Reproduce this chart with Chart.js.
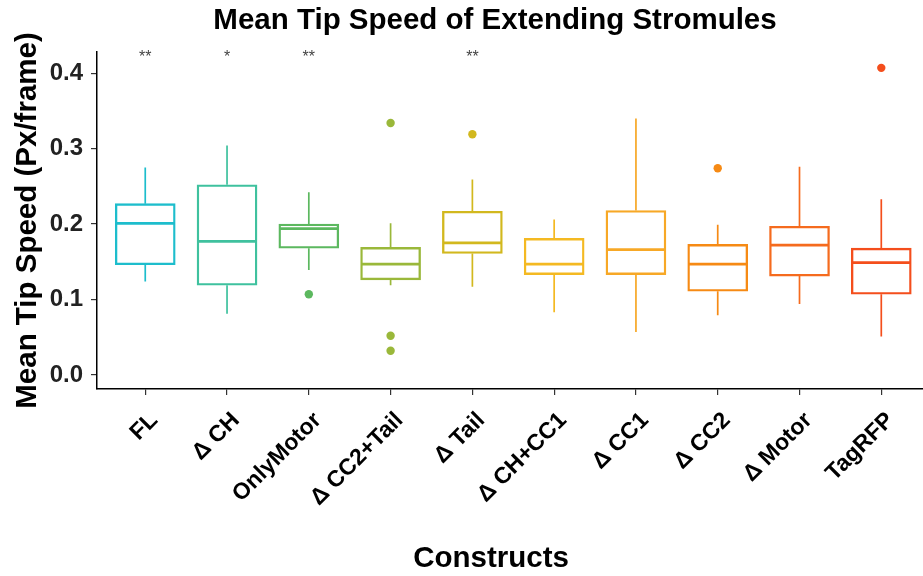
<!DOCTYPE html>
<html>
<head>
<meta charset="utf-8">
<script src="https://cdn.jsdelivr.net/npm/chart.js@4.4.1/dist/chart.umd.min.js"></script>
<style>
  html, body { margin: 0; padding: 0; background: #ffffff; }
  #wrap { width: 923px; height: 576px; position: relative; }
</style>
</head>
<body>
<div id="wrap"><canvas id="chart"></canvas></div>
<script>
// Constructs on the x axis
const constructs = ['FL', 'Δ CH', 'OnlyMotor', 'Δ CC2+Tail', 'Δ Tail', 'Δ CH+CC1', 'Δ CC1', 'Δ CC2', 'Δ Motor', 'TagRFP'];

// Box-plot summaries (Px/frame)
const whiskerLow  = [0.124, 0.081, 0.139, 0.119, 0.117, 0.083, 0.057, 0.079, 0.094, 0.051];
const lowerQuart  = [0.146, 0.119, 0.168, 0.126, 0.161, 0.133, 0.133, 0.111, 0.131, 0.107];
const medians     = [0.201, 0.177, 0.194, 0.147, 0.175, 0.147, 0.166, 0.147, 0.172, 0.149];
const upperQuart  = [0.227, 0.252, 0.200, 0.169, 0.217, 0.181, 0.218, 0.173, 0.197, 0.168];
const whiskerHigh = [0.275, 0.304, 0.242, 0.201, 0.259, 0.206, 0.340, 0.199, 0.276, 0.233];
const outliers    = [[], [], [0.107], [0.334, 0.052, 0.032], [0.319], [], [], [0.274], [], [0.407]];

// Significance marks shown above each construct
const significance = ['**', '*', '**', '', '**', '', '', '', '', ''];
const markLevel = 0.42;

// Y axis tick values
const yTicks = [0.0, 0.1, 0.2, 0.3, 0.4];

const colours = ['#1dbdcc', '#3fc19e', '#5cb85f', '#9ab83a', '#d2b81e',
                 '#f4b922', '#f7a826', '#f68a14', '#f56b1e', '#f44e1c'];

const FONT = '"Liberation Sans", Arial, Helvetica, sans-serif';

const boxData = constructs.map((_, i) => ({ x: i + 1, y: [lowerQuart[i], upperQuart[i]] }));
const medianData = constructs.map((_, i) => ({ x: i + 1, y: medians[i] }));
const whiskerSets = constructs.map((_, i) => ({
  type: 'line',
  data: [
    { x: i + 1, y: whiskerLow[i] }, { x: i + 1, y: lowerQuart[i] },
    { x: i + 1, y: null },
    { x: i + 1, y: upperQuart[i] }, { x: i + 1, y: whiskerHigh[i] }
  ],
  borderColor: colours[i],
  borderWidth: 1.7,
  pointRadius: 0,
  spanGaps: false,
  fill: false
}));
const outlierData = [];
const outlierColours = [];
outliers.forEach((list, i) => list.forEach(v => {
  outlierData.push({ x: i + 1, y: v });
  outlierColours.push(colours[i]);
}));

// Plot title, x-axis title and significance marks
const annotate = {
  id: 'annotate',
  afterDraw(chart) {
    const { ctx, scales: { x, y } } = chart;
    ctx.save();
    ctx.textAlign = 'center';
    ctx.textBaseline = 'middle';
    ctx.fillStyle = '#444444';
    ctx.font = '16px ' + FONT;
    significance.forEach((s, i) => {
      if (s) ctx.fillText(s, x.getPixelForValue(i + 1), y.getPixelForValue(markLevel));
    });
    ctx.fillStyle = '#000000';
    ctx.font = 'bold 29.5px ' + FONT;
    ctx.fillText('Mean Tip Speed of Extending Stromules', 495, 21);
    ctx.fillText('Constructs', 491, 559);
    ctx.restore();
  }
};

new Chart(document.getElementById('chart'), {
  data: {
    datasets: [
      {
        type: 'bar',
        data: boxData,
        backgroundColor: 'rgba(0,0,0,0)',
        borderColor: colours,
        borderWidth: 1.7,
        borderSkipped: false,
        barThickness: 60,
        order: 3
      },
      ...whiskerSets,
      {
        type: 'scatter',
        data: medianData,
        pointStyle: 'line',
        pointRadius: 29,
        pointBorderWidth: 2.8,
        pointBorderColor: colours,
        order: 1
      },
      {
        type: 'scatter',
        data: outlierData,
        pointRadius: 4.2,
        pointBorderWidth: 0,
        pointBackgroundColor: outlierColours,
        order: 0
      }
    ]
  },
  options: {
    responsive: true,
    maintainAspectRatio: false,
    animation: false,
    events: [],
    layout: { autoPadding: false, padding: { top: 52, right: 0, bottom: 0, left: 0 } },
    plugins: { legend: { display: false }, tooltip: { enabled: false }, title: { display: false } },
    scales: {
      x: {
        type: 'linear',
        offset: false,
        min: 0.41,
        max: 10.51,
        afterBuildTicks: s => { s.ticks = constructs.map((_, i) => ({ value: i + 1 })); },
        afterFit: s => { s.height = 187; s.paddingLeft = 0; s.paddingRight = 0; },
        grid: { display: true, offset: false, drawOnChartArea: false, drawTicks: true, tickLength: 6, tickColor: '#333333', lineWidth: 1.2 },
        border: { display: true, color: '#000000', width: 1.5 },
        ticks: {
          autoSkip: false,
          minRotation: 45,
          maxRotation: 45,
          padding: 12,
          labelOffset: 9,
          color: '#000000',
          font: { family: FONT, size: 23, weight: 'bold' },
          callback: v => constructs[Math.round(v) - 1]
        }
      },
      y: {
        type: 'linear',
        min: -0.0186,
        max: 0.428,
        afterBuildTicks: s => { s.ticks = yTicks.map(v => ({ value: v })); },
        afterFit: s => { s.width = 97; },
        grid: { display: true, drawOnChartArea: false, drawTicks: true, tickLength: 6, tickColor: '#333333', lineWidth: 1.2 },
        border: { display: true, color: '#000000', width: 1.5 },
        ticks: {
          padding: 8,
          color: '#222222',
          font: { family: FONT, size: 24, weight: 'bold' },
          callback: v => v.toFixed(1)
        },
        title: {
          display: true,
          text: 'Mean Tip Speed (Px/frame)',
          color: '#000000',
          font: { family: FONT, size: 29.5, weight: 'bold' },
          padding: { top: 10, bottom: 0 }
        }
      }
    }
  },
  plugins: [annotate]
});
</script>
</body>
</html>
